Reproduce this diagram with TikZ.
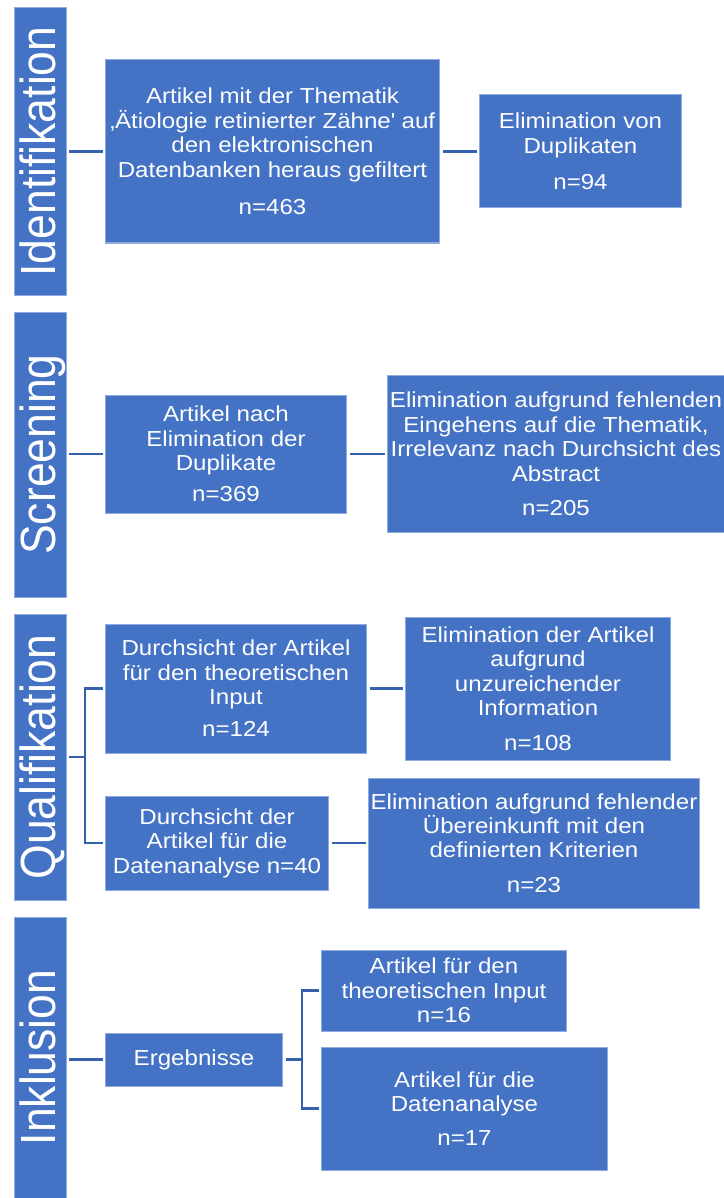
\documentclass[tikz,border=0pt]{standalone}
\usepackage{fontspec}
\setmainfont{Liberation Sans}[FakeStretch=1.11]
\newfontfamily\barfont{Liberation Sans}
\usetikzlibrary{positioning}

\definecolor{boxblue}{HTML}{4472C4}
\definecolor{boxline}{HTML}{8FAADC}
\definecolor{connblue}{HTML}{3560AD}

\newcommand{\phasetext}[1]{\scalebox{1}[1.11]{#1}}

\tikzset{
  stepbox/.style={draw=boxline, line width=1pt, fill=boxblue, text=white,
    align=center, inner sep=0pt, anchor=west,
    font=\fontsize{21.7}{24.4}\selectfont},
  phasebar/.style={draw=boxline, line width=1pt, fill=boxblue,
    minimum width=52pt, inner sep=0pt},
  phaselabel/.style={rotate=90, anchor=base, text=white, inner sep=0pt,
    font=\barfont\fontsize{44.5}{50}\selectfont},
  conn/.style={draw=connblue, line width=2.6pt, shorten <=2.5pt, shorten >=2.5pt}
}

\begin{document}
\begin{tikzpicture}[x=1pt, y=-1pt]
  \useasboundingbox (0,0) rectangle (723,1198);

  % phase bars
  \node[phasebar, minimum height=287pt] (idBar) at (40,151.5) {};
  \node[phasebar, minimum height=285pt] (scrBar) at (40,454.5) {};
  \node[phasebar, minimum height=286pt] (qualBar) at (40,757) {};
  \node[phasebar, minimum height=281pt] (inklBar) at (40,1057.5) {};

  \node[phaselabel] (idLabel) at (55,151.5) {\phasetext{Identifikation}};
  \node[phaselabel] (scrLabel) at (55,454.5) {\phasetext{Screening}};
  \node[phaselabel] (qualLabel) at (55,757) {\phasetext{Qualifikation}};
  \node[phaselabel] (inklLabel) at (55,1057.5) {\phasetext{Inklusion}};

  % Identifikation
  \node[stepbox, minimum width=334pt, minimum height=183pt] (idA) at (105,151.5)
    {Artikel mit der Thematik\\‚Ätiologie retinierter Zähne\textquotesingle{} auf\\den elektronischen\\Datenbanken heraus gefiltert\\[13pt]n=463};
  \node[stepbox, minimum width=202pt, minimum height=113pt, right=39pt of idA] (idB)
    {Elimination von\\Duplikaten\\[12pt]n=94};

  % Screening
  \node[stepbox, minimum width=241pt, minimum height=118pt] (scrC) at (105,454)
    {Artikel nach\\Elimination der\\Duplikate\\[7pt]n=369};
  \node[stepbox, minimum width=337pt, minimum height=157pt, right=40pt of scrC] (scrD)
    {Elimination aufgrund fehlenden\\Eingehens auf die Thematik,\\Irrelevanz nach Durchsicht des\\Abstract\\[10pt]n=205};

  % Qualifikation
  \node[stepbox, minimum width=261pt, minimum height=129pt] (qualE) at (105,688.5)
    {Durchsicht der Artikel\\für den theoretischen\\Input\\[8pt]n=124};
  \node[stepbox, minimum width=265pt, minimum height=143pt, right=38pt of qualE] (qualF)
    {Elimination der Artikel\\aufgrund\\unzureichender\\Information\\[10pt]n=108};
  \node[stepbox, minimum width=223pt, minimum height=94pt] (qualG) at (105,843)
    {Durchsicht der\\Artikel für die\\Datenanalyse n=40};
  \node[stepbox, minimum width=331pt, minimum height=130pt, right=39pt of qualG] (qualH)
    {Elimination aufgrund fehlender\\Übereinkunft mit den\\definierten Kriterien\\[10pt]n=23};

  % Inklusion
  \node[stepbox, minimum width=177pt, minimum height=53pt] (inklI) at (105,1059.5)
    {Ergebnisse};
  \node[stepbox, minimum width=245pt, minimum height=81pt] (inklJ) at (321,990.5)
    {Artikel für den\\theoretischen Input\\n=16};
  \node[stepbox, minimum width=286pt, minimum height=123pt] (inklK) at (321,1108.5)
    {Artikel für die\\Datenanalyse\\[9pt]n=17};

  \coordinate (qualFork) at (85,757);
  \coordinate (inklFork) at (302,1059.5);

  % connectors
  \draw[conn] (idBar.east |- idA.west) -- (idA.west);
  \draw[conn] (idA) -- (idB);
  \draw[conn] (scrBar.east |- scrC.west) -- (scrC.west);
  \draw[conn] (scrC) -- (scrD);
  \draw[conn, shorten >=0pt] (qualBar.east) -- (qualFork);
  \draw[conn] (qualE.west) -| (qualFork) |- (qualG.west);
  \draw[conn] (qualE) -- (qualF);
  \draw[conn] (qualG) -- (qualH);
  \draw[conn] (inklBar.east |- inklI.east) -- (inklI.west);
  \draw[conn, shorten >=0pt] (inklI.east) -- (inklFork);
  \draw[conn] (inklJ.west) -| (inklFork) |- (inklK.west);
\end{tikzpicture}
\end{document}
